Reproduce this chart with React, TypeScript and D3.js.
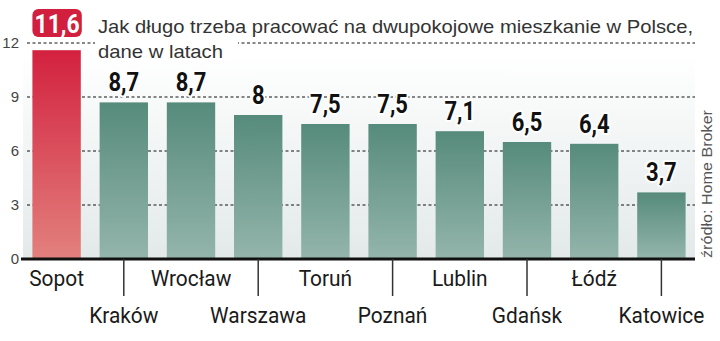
import React from "react";
import * as d3 from "d3";

const categories = ["Sopot", "Kraków", "Wrocław", "Warszawa", "Toruń", "Poznań", "Lublin", "Gdańsk", "Łódź", "Katowice"];
const values = [11.6, 8.7, 8.7, 8, 7.5, 7.5, 7.1, 6.5, 6.4, 3.7];
const valueLabels = ["11,6", "8,7", "8,7", "8", "7,5", "7,5", "7,1", "6,5", "6,4", "3,7"];
const yTicks = [0, 3, 6, 9, 12];
const titleLines = ["Jak długo trzeba pracować na dwupokojowe mieszkanie w Polsce,", "dane w latach"];
const sourceText = "źródło: Home Broker";

const W = 720, H = 341;
const plotL = 23, plotR = 695, plotB = 259, plotT = 43;
const narrow = "'Liberation Sans Narrow', 'Arial Narrow', 'Roboto', sans-serif";

export default function App() {
  const x = d3.scaleBand<string>().domain(categories).range([plotL, plotR]).paddingInner(0.28).paddingOuter(0.14);
  const y = d3.scaleLinear().domain([0, 12]).range([plotB, plotT]);
  return (
    <svg width={W} height={H} style={{ position: "absolute", left: 0, top: 0, background: "#fff" }}>
      <defs>
        <linearGradient id="bg" x1="0" y1="0" x2="0" y2="1">
          <stop offset="0" stopColor="#ffffff" />
          <stop offset="1" stopColor="#e3e9e9" />
        </linearGradient>
        <linearGradient id="green" x1="0" y1="0" x2="0" y2="1">
          <stop offset="0" stopColor="#568b7b" />
          <stop offset="1" stopColor="#94b5ab" />
        </linearGradient>
        <linearGradient id="red" x1="0" y1="0" x2="0" y2="1">
          <stop offset="0" stopColor="#d3213f" />
          <stop offset="1" stopColor="#e2817d" />
        </linearGradient>
      </defs>
      <rect x={plotL} y={plotT + 10} width={plotR - plotL} height={plotB - plotT - 10} fill="url(#bg)" />
      {yTicks.filter(t => t > 0).map(t => (
        <line key={t} x1={27} x2={plotR} y1={y(t)} y2={y(t)} stroke="#111" strokeWidth={1} strokeDasharray="3,2.5" />
      ))}
      {yTicks.map(t => (
        <text key={t} x={19} y={y(t) + 5} textAnchor="end" fontFamily="'Liberation Sans', sans-serif" fontSize={15} fill="#444">{t}</text>
      ))}
      {categories.map((c, i) => (
        <rect key={c} x={x(c)} y={y(values[i])} width={x.bandwidth()} height={plotB - y(values[i])} fill={i === 0 ? "url(#red)" : "url(#green)"} />
      ))}
      <line x1={21} x2={plotR} y1={plotB} y2={plotB} stroke="#111" strokeWidth={3} />
      {categories.map((c, i) => {
        const cx = (x(c) as number) + x.bandwidth() / 2;
        if (i % 2 === 0) {
          return <text key={c} transform={`translate(${cx},286) scale(0.95,1)`} textAnchor="middle" fontFamily={narrow} fontSize={22} fill="#1a1a1a">{c}</text>;
        }
        return (
          <g key={c}>
            <line x1={cx} x2={cx} y1={plotB} y2={296} stroke="#333" strokeWidth={1.5} />
            <text transform={`translate(${cx},323) scale(0.95,1)`} textAnchor="middle" fontFamily={narrow} fontSize={22} fill="#1a1a1a">{c}</text>
          </g>
        );
      })}
      {categories.map((c, i) => {
        if (i === 0) return null;
        const cx = (x(c) as number) + x.bandwidth() / 2;
        return (
          <text key={c} transform={`translate(${cx},${y(values[i]) - 11}) scale(0.88,1)`} textAnchor="middle" fontFamily={narrow} fontWeight="bold" fontSize={25}
            fill="#111" stroke="#fff" strokeWidth={4} paintOrder="stroke" strokeLinejoin="round">{valueLabels[i]}</text>
        );
      })}
      {(() => {
        const bx = x(categories[0]) as number;
        return (
          <g>
            <rect x={bx} y={9} width={x.bandwidth() + 1} height={28} rx={6} fill="#d11f3d" />
            <text transform={`translate(${bx + x.bandwidth() / 2 + 0.5},33) scale(0.92,1)`} textAnchor="middle" fontFamily={narrow} fontWeight="bold" fontSize={25} fill="#fff">{valueLabels[0]}</text>
          </g>
        );
      })()}
      <rect x={95} y={36} width={143} height={25} fill="#fff" />
      <text x={98} y={33} fontFamily="'Liberation Sans', sans-serif" fontSize={19} fill="#333" textLength={595} lengthAdjust="spacingAndGlyphs">{titleLines[0]}</text>
      <text x={98} y={58} fontFamily="'Liberation Sans', sans-serif" fontSize={19} fill="#333" textLength={125} lengthAdjust="spacingAndGlyphs">{titleLines[1]}</text>
      <text transform="translate(712,258) rotate(-90)" fontFamily="'Liberation Sans', sans-serif" fontSize={15} fill="#555" textLength={148} lengthAdjust="spacingAndGlyphs">{sourceText}</text>
    </svg>
  );
}
